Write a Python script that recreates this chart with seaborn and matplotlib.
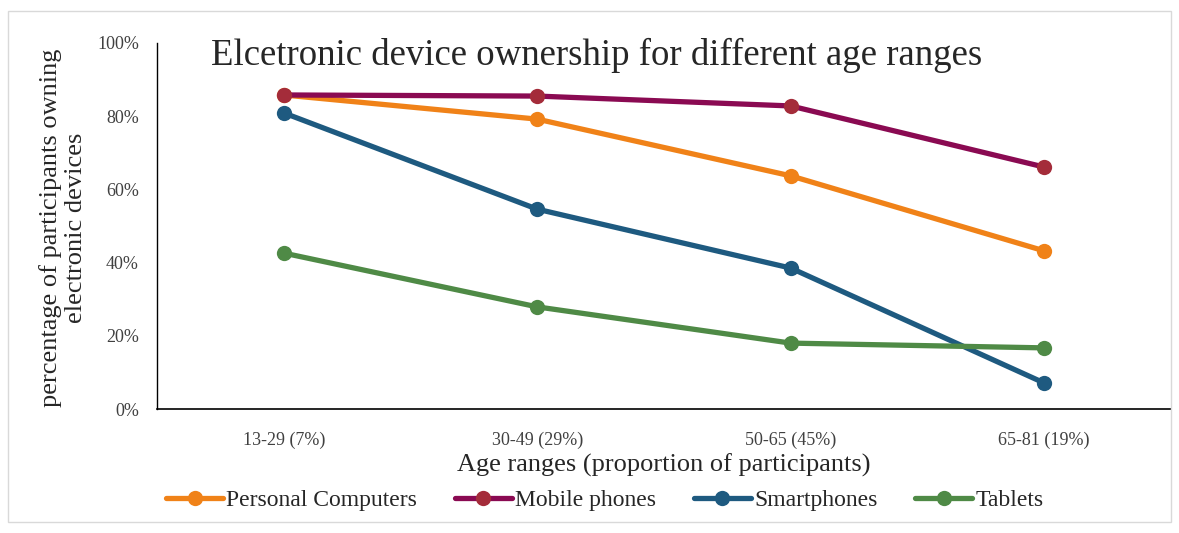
import pandas as pd
import matplotlib.pyplot as plt
import seaborn as sns
from matplotlib.patches import Rectangle

# data
age_ranges = ["13-29 (7%)", "30-49 (29%)", "50-65 (45%)", "65-81 (19%)"]
devices = ["Personal Computers", "Mobile phones", "Smartphones", "Tablets"]
personal_computers = [0.858, 0.792, 0.637, 0.432]
mobile_phones = [0.858, 0.855, 0.828, 0.661]
smartphones = [0.809, 0.546, 0.385, 0.071]
tablets = [0.426, 0.279, 0.180, 0.167]

line_colors = ["#F08218", "#8A0A52", "#1E5A80", "#4F8A46"]
marker_colors = ["#F08218", "#A42C3A", "#1E5A80", "#4F8A46"]

rows = []
for name, vals in zip(devices, [personal_computers, mobile_phones, smartphones, tablets]):
    for age, v in zip(age_ranges, vals):
        rows.append({"age": age, "device": name, "share": v})
df = pd.DataFrame(rows)

sns.set_style("white")
plt.rcParams['font.family'] = ['Liberation Serif', 'DejaVu Serif']

fig = plt.figure(figsize=(11.79, 5.33), dpi=100)
ax = fig.add_axes([157 / 1179, 1 - 409 / 533, (1171 - 157) / 1179, (409 - 43) / 533])

sns.lineplot(data=df, x="age", y="share", hue="device", hue_order=devices,
             palette=line_colors, marker="o", markersize=11, linewidth=3.8,
             markeredgewidth=0, sort=False, ax=ax)

# markers of the mobile phone line are a slightly different red
for line, mc in zip(ax.lines[:4], marker_colors):
    line.set_markerfacecolor(mc)
    line.set_markeredgecolor(mc)

ax.set_xlim(-0.5, 3.5)
ax.set_ylim(0, 1.0)
ax.set_yticks([0, 0.2, 0.4, 0.6, 0.8, 1.0])
ax.set_yticklabels(["0%", "20%", "40%", "60%", "80%", "100%"], fontsize=13, color="#404040")
ax.tick_params(axis="x", labelsize=13, colors="#404040", pad=16, length=0)
ax.tick_params(axis="y", length=0, pad=13)
for s in ["top", "right"]:
    ax.spines[s].set_visible(False)
ax.spines["left"].set_color("black")
ax.spines["bottom"].set_color("black")
ax.spines["left"].set_linewidth(1.0)
ax.spines["bottom"].set_linewidth(1.2)

ax.set_xlabel("Age ranges (proportion of participants)", fontsize=19, labelpad=4)
ax.set_ylabel("")
fig.text(63 / 1179, 1 - 228 / 533, "percentage of participants owning\nelectronic devices",
         rotation=90, ha="center", va="center", fontsize=19, linespacing=1.2)

fig.text(597 / 1179, 1 - 55 / 533, "Elcetronic device ownership for different age ranges",
         ha="center", va="center", fontsize=26.5)

handles, labels = ax.get_legend_handles_labels()
ax.legend_.remove()
for h, mc in zip(handles[:4], marker_colors):
    h.set_markerfacecolor(mc)
    h.set_markeredgecolor(mc)
fig.legend(handles[:4], labels[:4], loc="center", bbox_to_anchor=(605 / 1179, 1 - 500 / 533),
           ncol=4, frameon=False, fontsize=17, handlelength=2.4, handletextpad=0.15,
           columnspacing=1.6)

# light frame around the whole chart
fig.patches.append(Rectangle((8 / 1179, 0.02), 1 - 16 / 1179, 0.96, transform=fig.transFigure,
                             fill=False, edgecolor="#D9D9D9", linewidth=1))

fig.savefig("out.png", dpi=100)
